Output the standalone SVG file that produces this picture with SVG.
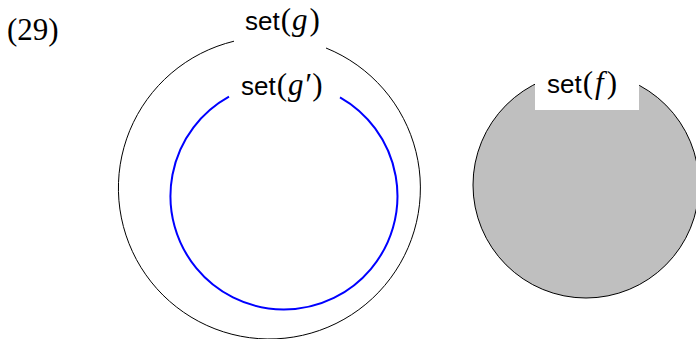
<svg xmlns="http://www.w3.org/2000/svg" width="696" height="339" viewBox="0 0 696 339">
<style>
.lbl{font-family:"Liberation Sans",Arial,sans-serif;font-size:26px;fill:#000}
.m{font-family:"Liberation Serif","Times New Roman",serif;font-size:31px}
.i{font-style:italic}
</style>
<rect width="696" height="339" fill="#fff"/>
<text x="7" y="40" font-family="'Liberation Serif',serif" font-size="31">(29)</text>
<g id="setg">
<path d="M326,48 A151,151 0 1,1 234,41.2" fill="none" stroke="#000" stroke-width="1"/>
<text class="lbl" x="245" y="30">set<tspan class="m" dx="1">(</tspan><tspan class="m i" dx="1">g</tspan><tspan class="m" dx="2">)</tspan></text>
</g>
<g id="setgp">
<path d="M340,97.3 A113.5,113.5 0 1,1 229,96.7" fill="none" stroke="#0000ff" stroke-width="2"/>
<text class="lbl" x="241" y="95">set<tspan class="m" dx="1">(</tspan><tspan class="m i" dx="1">g′</tspan><tspan class="m" dx="2">)</tspan></text>
</g>
<g id="setf">
<circle cx="586" cy="185" r="113" fill="#bfbfbf" stroke="#000" stroke-width="1"/>
<rect x="535" y="60" width="104" height="50" fill="#fff"/>
<text class="lbl" x="547" y="93">set<tspan class="m" dx="1">(</tspan><tspan class="m i" dx="2">f</tspan><tspan class="m" dx="3">)</tspan></text>
</g>
<g id="connectors"></g>
</svg>
